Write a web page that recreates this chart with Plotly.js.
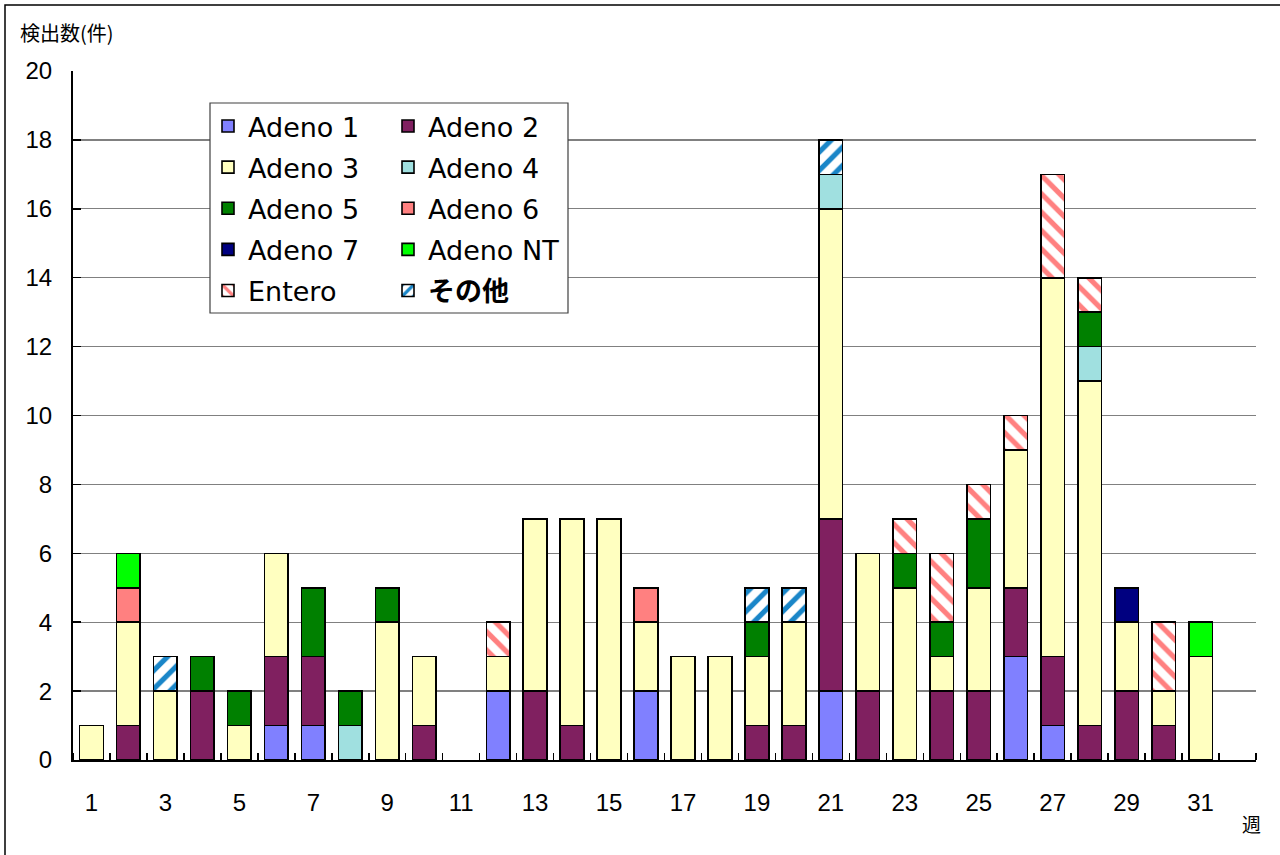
<!DOCTYPE html>
<html>
<head>
<meta charset="utf-8">
<script src="https://cdn.plot.ly/plotly-3.0.1.min.js"></script>
<style>html,body{margin:0;padding:0;background:#fff;}#chart{width:1280px;height:855px;}</style>
</head>
<body>
<div id="chart"></div>
<script>
const weeks = [1,2,3,4,5,6,7,8,9,10,11,12,13,14,15,16,17,18,19,20,21,22,23,24,25,26,27,28,29,30,31,32];
const xTickVals = [1,3,5,7,9,11,13,15,17,19,21,23,25,27,29,31];
const xTickText = ["1","3","5","7","9","11","13","15","17","19","21","23","25","27","29","31"];

const adeno1  = [0,0,0,0,0,1,1,0,0,0, 0,2,0,0,0,2,0,0,0,0, 2,0,0,0,0,3,1,0,0,0, 0,0];
const adeno2  = [0,1,0,2,0,2,2,0,0,1, 0,0,2,1,0,0,0,0,1,1, 5,2,0,2,2,2,2,1,2,1, 0,0];
const adeno3  = [1,3,2,0,1,3,0,0,4,2, 0,1,5,6,7,2,3,3,2,3, 9,4,5,1,3,4,11,10,2,1, 3,0];
const adeno4  = [0,0,0,0,0,0,0,1,0,0, 0,0,0,0,0,0,0,0,0,0, 1,0,0,0,0,0,0,1,0,0, 0,0];
const adeno5  = [0,0,0,1,1,0,2,1,1,0, 0,0,0,0,0,0,0,0,1,0, 0,0,1,1,2,0,0,1,0,0, 0,0];
const adeno6  = [0,1,0,0,0,0,0,0,0,0, 0,0,0,0,0,1,0,0,0,0, 0,0,0,0,0,0,0,0,0,0, 0,0];
const adeno7  = [0,0,0,0,0,0,0,0,0,0, 0,0,0,0,0,0,0,0,0,0, 0,0,0,0,0,0,0,0,1,0, 0,0];
const adenoNT = [0,1,0,0,0,0,0,0,0,0, 0,0,0,0,0,0,0,0,0,0, 0,0,0,0,0,0,0,0,0,0, 1,0];
const entero  = [0,0,0,0,0,0,0,0,0,0, 0,1,0,0,0,0,0,0,0,0, 0,0,1,2,1,1,3,1,0,2, 0,0];
const other   = [0,0,1,0,0,0,0,0,0,0, 0,0,0,0,0,0,0,0,1,1, 1,0,0,0,0,0,0,0,0,0, 0,0];

const seriesNames = ["Adeno 1","Adeno 2","Adeno 3","Adeno 4","Adeno 5","Adeno 6","Adeno 7","Adeno NT","Entero","その他"];
const seriesValues = [adeno1,adeno2,adeno3,adeno4,adeno5,adeno6,adeno7,adenoNT,entero,other];
const seriesColors = ["#8080FF","#802060","#FFFFC0","#A0E0E0","#008000","#FF8080","#000080","#00FF00","#FFFFFF","#FFFFFF"];
const legendOf = ["legend","legend2","legend","legend2","legend","legend2","legend","legend2","legend","legend2"];

const traces = seriesNames.map((name, i) => {
  const marker = {color: seriesColors[i], line: {color: "#000000", width: 1.6}};
  if (name === "Entero") {
    marker.pattern = {shape: "\\", fgcolor: "#FF8080", bgcolor: "#FFFFFF", size: 13, solidity: 0.4, fillmode: "replace"};
  } else if (name === "その他") {
    marker.pattern = {shape: "/", fgcolor: "#1A86C8", bgcolor: "#FFFFFF", size: 13, solidity: 0.4, fillmode: "replace"};
  }
  return {
    type: "bar",
    name: name === "その他" ? "<b>その他</b>" : name,
    x: weeks,
    y: seriesValues[i].map(v => (v === 0 ? null : v)),
    marker: marker,
    legend: legendOf[i],
    legendgroup: "g" + i,
    hoverinfo: "x+y+name"
  };
});

const L = 73, R = 24, T = 71, B = 95;
const W = 1280, H = 855;
const pw = W - L - R, ph = H - T - B;
const px = v => (v - L) / pw;
const py = v => (H - B - v) / ph;

const legendFont = {family: "DejaVu Sans, Noto Sans CJK JP, sans-serif", size: 27, color: "#000"};

const layout = {
  width: W, height: H,
  margin: {l: L, r: R, t: T, b: B, pad: 0},
  paper_bgcolor: "#FFFFFF",
  plot_bgcolor: "#FFFFFF",
  barmode: "stack",
  bargap: 0.36,
  showlegend: true,
  font: {family: "Liberation Sans Narrow, Liberation Sans, sans-serif", size: 24, color: "#000"},
  xaxis: {
    type: "linear",
    range: [0.5, 32.5],
    tickmode: "array",
    tickvals: xTickVals,
    ticktext: xTickText,
    ticks: "",
    ticklabelstandoff: 20,
    showline: true, linecolor: "#000", linewidth: 2,
    showgrid: false, zeroline: false,
    minor: {tickmode: "linear", tick0: 0.5, dtick: 1, ticks: "inside", ticklen: 7, tickcolor: "#000", tickwidth: 1.5, showgrid: false},
    tickfont: {family: "Liberation Sans Narrow, Liberation Sans, sans-serif", size: 24, color: "#000"},
    fixedrange: true
  },
  yaxis: {
    range: [0, 20],
    dtick: 2,
    tick0: 0,
    ticks: "inside", ticklen: 8, tickcolor: "#000", tickwidth: 1.5,
    ticklabelstandoff: 14,
    showline: true, linecolor: "#000", linewidth: 2,
    showgrid: true, gridcolor: "#808080", gridwidth: 1.2,
    zeroline: false,
    tickfont: {family: "Liberation Sans Narrow, Liberation Sans, sans-serif", size: 24, color: "#000"},
    fixedrange: true
  },
  legend: {
    x: px(208), y: py(102), xanchor: "left", yanchor: "top",
    bgcolor: "rgba(0,0,0,0)", borderwidth: 0, tracegroupgap: 3,
    font: legendFont, traceorder: "grouped", itemclick: false, itemdoubleclick: false
  },
  legend2: {
    x: px(388), y: py(102), xanchor: "left", yanchor: "top",
    bgcolor: "rgba(0,0,0,0)", borderwidth: 0, tracegroupgap: 3,
    font: legendFont, traceorder: "grouped", itemclick: false, itemdoubleclick: false
  },
  shapes: [
    {type: "rect", xref: "paper", yref: "paper", x0: px(210), x1: px(568), y0: py(313), y1: py(103),
     line: {color: "#404040", width: 1.2}, fillcolor: "#FFFFFF", layer: "above"},
    {type: "rect", xref: "paper", yref: "paper", x0: px(5), x1: px(1300), y0: py(880), y1: py(5),
     line: {color: "#000000", width: 1.5}, fillcolor: "rgba(0,0,0,0)", layer: "below"}
  ],
  annotations: [
    {text: "検出数(件)", xref: "paper", yref: "paper", x: px(18), y: py(33), xanchor: "left", yanchor: "middle",
     showarrow: false, font: {family: "Noto Sans CJK JP, sans-serif", size: 20, color: "#000"}},
    {text: "週", xref: "paper", yref: "paper", x: px(1251), y: py(823), xanchor: "center", yanchor: "middle",
     showarrow: false, font: {family: "Noto Sans CJK JP, sans-serif", size: 19, color: "#000"}}
  ]
};

Plotly.newPlot("chart", traces, layout, {displayModeBar: false, staticPlot: true});
</script>
</body>
</html>
